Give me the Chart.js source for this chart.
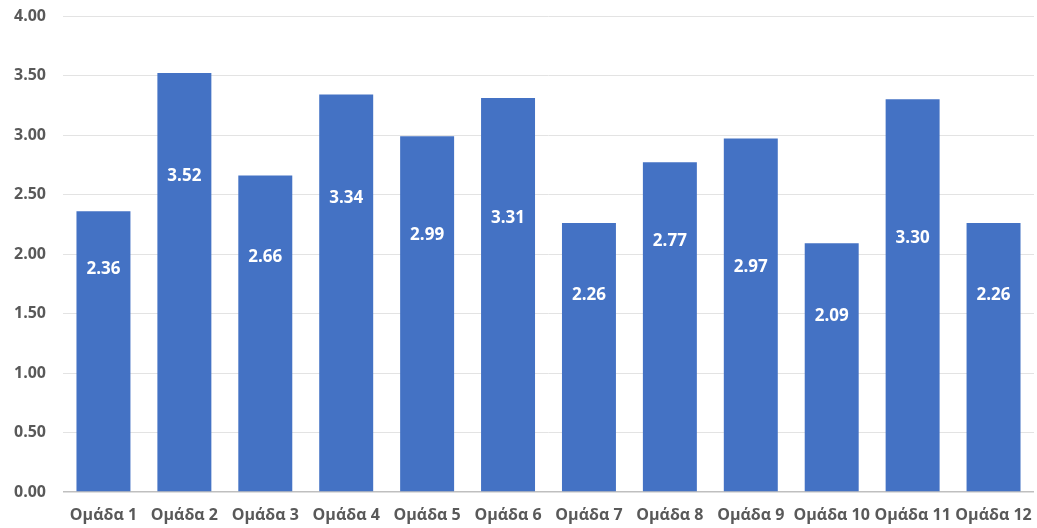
<!DOCTYPE html>
<html lang="el">
<head>
<meta charset="utf-8">
<title>Μέσοι όροι ανά ομάδα</title>
<script src="https://cdn.jsdelivr.net/npm/chart.js@4/dist/chart.umd.min.js"></script>
<style>
  html, body { margin: 0; padding: 0; background: #ffffff; }
  #wrap { width: 1037px; height: 528px; position: relative; }
</style>
</head>
<body>
<div id="wrap"><canvas id="chart" width="1037" height="528"></canvas></div>
<script>
// Categories and mean scores
const groups = ['Ομάδα 1', 'Ομάδα 2', 'Ομάδα 3', 'Ομάδα 4', 'Ομάδα 5', 'Ομάδα 6',
                'Ομάδα 7', 'Ομάδα 8', 'Ομάδα 9', 'Ομάδα 10', 'Ομάδα 11', 'Ομάδα 12'];
const scores = [2.36, 3.52, 2.66, 3.34, 2.99, 3.31, 2.26, 2.77, 2.97, 2.09, 3.30, 2.26];

// Value-axis ticks
const yTicks = [0, 0.5, 1, 1.5, 2, 2.5, 3, 3.5, 4];

// Height (in axis units) at which each value label sits inside its bar
const labelAnchor = [1.87, 2.65, 1.97, 2.47, 2.16, 2.30, 1.65, 2.11, 1.89, 1.48, 2.13, 1.65];

const FONT = '"Open Sans", "Noto Sans", sans-serif';
const GREY = '#595959';

// Draws the white value labels inside the bars
const valueLabels = {
  id: 'valueLabels',
  afterDatasetsDraw(chart) {
    const { ctx, scales: { y } } = chart;
    const meta = chart.getDatasetMeta(0);
    ctx.save();
    ctx.fillStyle = '#ffffff';
    ctx.font = 'bold 17px ' + FONT;
    ctx.textAlign = 'center';
    ctx.textBaseline = 'middle';
    meta.data.forEach((bar, i) => {
      ctx.fillText(scores[i].toFixed(2), bar.x, y.getPixelForValue(labelAnchor[i]));
    });
    ctx.restore();
  }
};

new Chart(document.getElementById('chart'), {
  type: 'bar',
  data: {
    labels: groups,
    datasets: [{
      data: scores,
      backgroundColor: '#4472C4',
      borderWidth: 0,
      barPercentage: 0.667,
      categoryPercentage: 1.0
    }]
  },
  options: {
    responsive: false,
    animation: false,
    layout: { padding: { top: 16, right: 3, left: 0, bottom: 0 } },
    plugins: {
      legend: { display: false },
      tooltip: { enabled: false }
    },
    scales: {
      x: {
        grid: { display: false, drawTicks: false },
        border: { display: false },
        ticks: {
          autoSkip: false,
          maxRotation: 0,
          minRotation: 0,
          padding: 14,
          color: GREY,
          font: { family: FONT, size: 16, weight: 'bold' }
        },
        afterFit(scale) {
          scale.height = 36;
          scale.paddingLeft = 0;
          scale.paddingRight = 0;
        }
      },
      y: {
        min: 0,
        max: 4,
        afterBuildTicks(scale) { scale.ticks = yTicks.map(v => ({ value: v })); },
        grid: {
          drawTicks: false,
          color: ctx => (ctx.tick && ctx.tick.value === 0) ? '#bfbfbf' : '#e3e3e3',
          lineWidth: ctx => (ctx.tick && ctx.tick.value === 0) ? 1.5 : 1
        },
        border: { display: false },
        ticks: {
          padding: 17,
          color: GREY,
          font: { family: FONT, size: 16, weight: 'bold' },
          callback: v => Number(v).toFixed(2)
        },
        afterFit(scale) {
          scale.width = 63;
          scale.paddingTop = 0;
          scale.paddingBottom = 0;
        }
      }
    }
  },
  plugins: [valueLabels]
});
</script>
</body>
</html>
